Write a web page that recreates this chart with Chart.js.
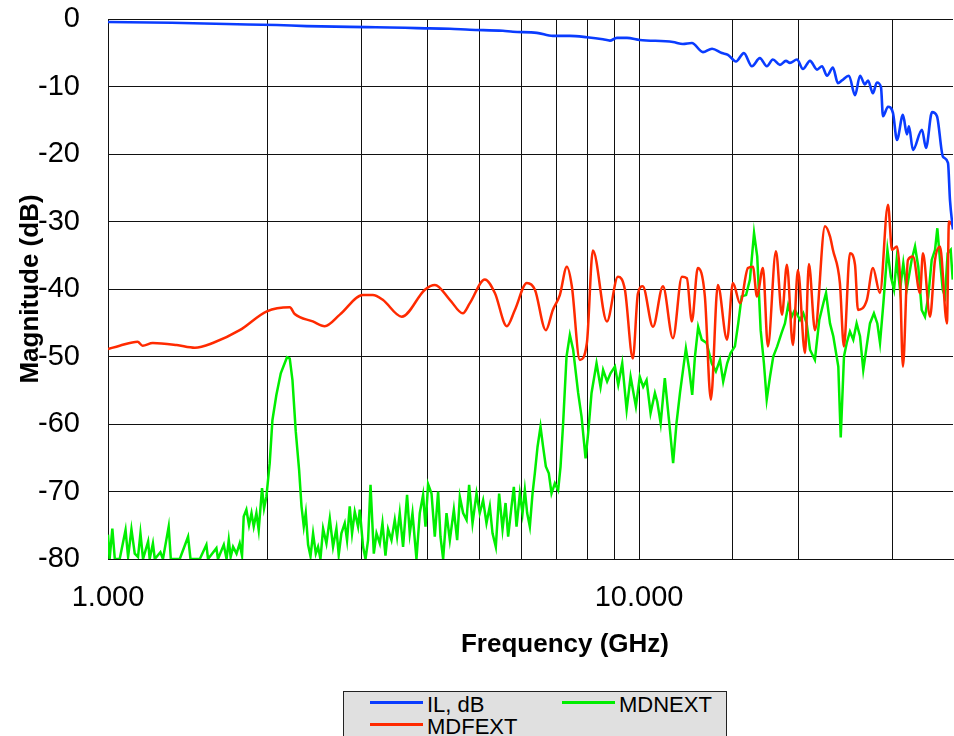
<!DOCTYPE html>
<html>
<head>
<meta charset="utf-8">
<script src="https://cdn.jsdelivr.net/npm/chart.js@4.4.0/dist/chart.umd.min.js"></script>
<style>
  body { margin: 0; background: #fff; font-family: 'Liberation Sans', Arial, sans-serif; }
  #wrap { position: relative; width: 954px; height: 736px; overflow: hidden; }
  #legend { position: absolute; left: 343px; top: 691px; width: 382px; height: 50px;
    background: #e0e0e0; border: 1px solid #222; }
  .sw { position: absolute; height: 3px; width: 53px; }
  .lb { position: absolute; font-size: 22px; line-height: 22px; color: #000; white-space: nowrap; }
</style>
</head>
<body>
<div id="wrap">
  <canvas id="chart" width="954" height="736"></canvas>
  <div id="legend"></div>
</div>
<script>
'use strict';

function $(selector) { return document.querySelector(selector); }
function _(tag) { return document.createElement(tag); }

// IL, dB
const ilFreq = [
  1.0, 1.318, 1.673, 2.078, 2.367, 3.072, 3.393, 3.815, 4.402, 4.801,
  5.541, 5.786, 6.419, 6.88, 7.406, 7.974, 8.546, 8.81, 9.082, 9.485,
  10.03, 11.58, 12.09, 12.57, 13.19, 13.72, 14.32, 14.7, 15.22, 15.75,
  16.31, 16.88, 17.4, 17.86, 18.42, 18.9, 19.23, 19.83, 20.35, 20.98,
  21.63, 22.1, 22.59, 23.17, 23.68, 24.1, 24.84, 25.5, 26.06, 26.62,
  26.98, 27.56, 28.04, 28.54, 28.79, 29.42, 30.06, 30.59, 31.39, 31.94,
  32.22, 32.78, 34.09, 34.69, 35.61, 36.38, 37.34, 38.16, 38.49, 38.99
];
const ilDb = [
  -0.45, -0.55, -0.75, -0.9, -1.05, -1.2, -1.25, -1.35, -1.45, -1.6,
  -1.75, -1.9, -2.05, -2.5, -2.5, -2.7, -3.0, -3.2, -2.8, -2.8,
  -3.1, -3.4, -3.7, -3.55, -4.9, -4.4, -5.05, -5.3, -6.3, -5.05,
  -7.0, -5.8, -7.0, -6.0, -6.8, -6.2, -6.5, -6.0, -7.4, -6.2,
  -7.5, -7.0, -8.4, -7.2, -9.5, -9.1, -8.4, -11.3, -8.4, -9.7,
  -9.1, -11.0, -9.4, -10.1, -14.4, -13.0, -13.9, -17.9, -14.2, -17.1,
  -15.9, -19.4, -16.4, -19.1, -13.8, -14.4, -20.4, -21.3, -26.8, -31.2
];

// MDFEXT
const fextFreq = [
  1.0, 1.052, 1.137, 1.162, 1.214, 1.347, 1.457, 1.575, 1.77, 1.991,
  2.199, 2.247, 2.43, 2.559, 2.732, 3.018, 3.152, 3.291, 3.574, 3.951,
  4.126, 4.402, 4.657, 4.801, 5.124, 5.351, 5.636, 5.836, 6.148, 6.366,
  6.675, 6.88, 7.092, 7.311, 7.471, 7.734, 7.974, 8.185, 8.697, 9.123,
  9.404, 9.734, 9.948, 10.16, 10.62, 11.09, 11.58, 12.04, 12.3, 12.57,
  12.9, 13.3, 13.65, 14.07, 14.64, 15.02, 15.49, 16.03, 16.38, 16.67,
  17.11, 17.48, 18.1, 18.58, 18.98, 19.48, 19.91, 20.53, 20.88, 21.44,
  22.39, 22.88, 23.17, 23.88, 24.3, 24.95, 25.5, 25.83, 26.85, 27.56,
  28.41, 29.42, 29.94, 30.59, 30.99, 31.39, 32.08, 32.79, 33.8, 34.24,
  35.3, 36.07, 36.86, 37.99, 38.32, 38.99
];
const fextDb = [
  -48.9, -48.4, -47.8, -48.4, -48.0, -48.3, -48.7, -48.0, -46.1, -43.3,
  -42.7, -43.7, -44.8, -45.5, -43.8, -40.9, -40.9, -41.6, -44.1, -40.1,
  -39.4, -41.6, -43.6, -42.1, -38.6, -40.6, -45.5, -43.1, -39.1, -40.1,
  -46.1, -43.1, -40.9, -36.7, -39.6, -50.5, -48.0, -34.3, -44.8, -38.2,
  -40.1, -50.3, -40.7, -39.6, -45.6, -39.6, -47.3, -38.2, -38.4, -44.8,
  -36.9, -41.1, -56.4, -39.4, -47.5, -39.1, -42.1, -36.9, -36.7, -41.1,
  -36.9, -48.5, -34.4, -43.8, -36.4, -48.3, -37.2, -49.5, -36.3, -46.1,
  -30.7, -32.2, -34.2, -39.1, -48.5, -34.7, -36.4, -43.1, -41.6, -36.9,
  -40.6, -27.5, -34.2, -33.7, -38.2, -51.5, -35.7, -35.2, -40.6, -34.7,
  -44.1, -35.7, -33.7, -45.1, -30.0, -30.7
];

// MDNEXT
const nextFreq = [
  1.0, 1.007, 1.019, 1.03, 1.052, 1.079, 1.091, 1.107, 1.123, 1.139,
  1.151, 1.164, 1.19, 1.198, 1.215, 1.225, 1.255, 1.269, 1.301, 1.313,
  1.365, 1.415, 1.43, 1.489, 1.532, 1.543, 1.6, 1.611, 1.652, 1.672,
  1.688, 1.702, 1.72, 1.746, 1.77, 1.788, 1.801, 1.822, 1.843, 1.863,
  1.881, 1.903, 1.922, 1.95, 1.967, 1.987, 2.016, 2.04, 2.075, 2.115,
  2.151, 2.173, 2.199, 2.225, 2.257, 2.29, 2.314, 2.337, 2.357, 2.381,
  2.406, 2.433, 2.462, 2.486, 2.512, 2.541, 2.578, 2.616, 2.653, 2.692,
  2.719, 2.751, 2.791, 2.819, 2.852, 2.881, 2.915, 2.957, 2.979, 3.022,
  3.054, 3.088, 3.121, 3.166, 3.203, 3.249, 3.287, 3.33, 3.368, 3.418,
  3.467, 3.502, 3.543, 3.594, 3.657, 3.7, 3.744, 3.809, 3.864, 3.92,
  3.961, 4.006, 4.066, 4.124, 4.184, 4.227, 4.276, 4.339, 4.402, 4.479,
  4.544, 4.597, 4.663, 4.733, 4.786, 4.857, 4.942, 5.012, 5.085, 5.16,
  5.235, 5.297, 5.373, 5.451, 5.532, 5.605, 5.668, 5.752, 5.81, 5.878,
  5.963, 6.033, 6.094, 6.155, 6.227, 6.3, 6.363, 6.438, 6.522, 6.596,
  6.674, 6.761, 6.841, 6.94, 7.04, 7.114, 7.194, 7.301, 7.407, 7.514,
  7.678, 7.792, 7.929, 8.018, 8.137, 8.315, 8.461, 8.556, 8.706, 8.835,
  9.005, 9.135, 9.295, 9.474, 9.638, 9.862, 10.03, 10.18, 10.33, 10.51,
  10.71, 10.82, 10.98, 11.18, 11.4, 11.59, 11.76, 11.94, 12.25, 12.43,
  12.59, 12.74, 12.92, 13.12, 13.4, 13.7, 13.95, 14.2, 14.4, 14.65,
  14.87, 15.15, 15.37, 15.6, 15.9, 16.17, 16.46, 16.69, 16.94, 17.18,
  17.39, 17.64, 17.89, 18.2, 18.55, 18.82, 19.09, 19.38, 19.65, 20.09,
  20.38, 20.68, 20.98, 21.43, 21.84, 22.23, 22.49, 22.88, 23.21, 23.72,
  23.97, 24.31, 24.6, 24.95, 25.31, 25.68, 26.06, 26.43, 26.82, 27.21,
  27.68, 28.09, 28.42, 28.84, 29.35, 29.79, 30.2, 30.55, 31.0, 31.44,
  31.9, 32.6, 33.08, 33.55, 34.05, 34.54, 35.04, 35.56, 36.08, 36.44,
  36.86, 37.3, 37.67, 38.11, 38.61, 38.95
];
const nextDb = [
  -76.4, -80, -75.5, -80, -80, -75.7, -79.7, -75.6, -79.2, -79.7,
  -76.2, -80, -77.4, -80, -77.7, -80, -79, -80, -75.2, -80,
  -80, -76.7, -80, -80, -77.9, -80, -78.4, -80, -77.9, -80,
  -77.2, -79.7, -78.2, -79.2, -77.7, -79.5, -73.7, -72.7, -75.0, -73.2,
  -75.2, -73.2, -75.7, -69.5, -72.5, -70.8, -65.8, -59.4, -55.7, -52.5,
  -51.0, -50.1, -50.3, -53.5, -61.1, -66.8, -72.2, -75.2, -73.2, -77.9,
  -79.6, -76.2, -79.2, -78.2, -80, -75.5, -77.7, -74.0, -78.2, -75.5,
  -79.4, -76.2, -74.7, -77.2, -72.2, -76.2, -73.0, -75.2, -72.7, -78.2,
  -80, -77.2, -69.0, -79.2, -76.2, -77.7, -74.7, -79.5, -75.6, -77.2,
  -74.2, -76.7, -73.2, -78.2, -70.5, -76.2, -73.2, -80, -73.2, -70.5,
  -75.2, -68.9, -70.3, -76.7, -70.0, -76.7, -80, -73.2, -77.2, -72.7,
  -77.2, -70.8, -73.2, -74.2, -69.0, -74.7, -70.3, -73.2, -71.3, -74.7,
  -72.2, -76.2, -78.2, -70.3, -75.6, -71.7, -76.7, -72.2, -69.3, -75.2,
  -70.3, -73.2, -69.8, -73.2, -75.2, -70.3, -67.3, -63.4, -60.4, -63.4,
  -66.3, -67.3, -70.3, -68.8, -69.8, -66.3, -59.9, -50.0, -46.8, -49.0,
  -55.4, -58.9, -65.1, -61.4, -55.4, -51.0, -54.5, -52.0, -53.7, -52.5,
  -51.5, -54.2, -51.0, -57.9, -53.0, -57.4, -53.0, -54.5, -53.5, -58.4,
  -55.4, -56.7, -59.9, -53.2, -59.9, -65.8, -59.9, -55.4, -48.8, -52.0,
  -55.7, -50.0, -45.6, -47.5, -48.0, -51.0, -52.2, -50.5, -53.7, -51.0,
  -49.5, -48.5, -45.1, -41.1, -40.9, -38.6, -31.7, -35.2, -46.1, -51.0,
  -56.4, -53.0, -50.0, -48.5, -46.5, -45.1, -42.4, -44.1, -43.1, -44.6,
  -43.6, -45.1, -49.0, -50.5, -44.6, -42.1, -40.6, -45.1, -47.0, -51.5,
  -62.0, -50.0, -48.0, -46.3, -47.5, -45.1, -47.0, -52.0, -48.5, -45.1,
  -43.6, -45.1, -48.0, -42.1, -34.2, -38.2, -40.1, -35.7, -40.1, -36.2,
  -40.1, -35.7, -33.7, -36.7, -43.1, -44.1, -41.1, -35.7, -34.2, -31.0,
  -35.7, -40.1, -41.1, -34.7, -34.2, -38.6
];

const yTicks = [0, -10, -20, -30, -40, -50, -60, -70, -80];
const xLabels = { 1: '1.000', 10: '10.000' };
const xTitle = 'Frequency (GHz)';

const blue = '#0a3cff';
const red = '#ff2a00';
const green = '#00ee00';

function points(xs, ys) {
  return xs.map((x, i) => ({ x: x, y: ys[i] }));
}

Chart.defaults.font.family = "'Liberation Sans', Arial, sans-serif";
Chart.defaults.color = '#000';

// the x title sits a bit right of the axis centre in the original
const xTitlePlugin = {
  id: 'xTitle',
  afterDraw(chart) {
    const ctx = chart.ctx;
    ctx.save();
    ctx.font = "bold 26px 'Liberation Sans', Arial, sans-serif";
    ctx.fillStyle = '#000';
    ctx.textAlign = 'center';
    ctx.textBaseline = 'middle';
    ctx.fillText(xTitle, 565, 645);
    ctx.restore();
  }
};

const config = {
  type: 'line',
  data: {
    datasets: [
      { label: 'IL, dB', data: points(ilFreq, ilDb), borderColor: blue,
        borderWidth: 2.6, pointRadius: 0, cubicInterpolationMode: 'monotone' },
      { label: 'MDFEXT', data: points(fextFreq, fextDb), borderColor: red,
        borderWidth: 2.5, pointRadius: 0, cubicInterpolationMode: 'monotone' },
      { label: 'MDNEXT', data: points(nextFreq, nextDb), borderColor: green,
        borderWidth: 2.5, pointRadius: 0 }
    ]
  },
  options: {
    responsive: false,
    animation: false,
    devicePixelRatio: 1,
    layout: { padding: { top: 19, right: 1, bottom: 75, left: 0 } },
    plugins: { legend: { display: false }, tooltip: { enabled: false } },
    scales: {
      x: {
        type: 'logarithmic',
        min: 1,
        max: 39,
        grid: {
          drawTicks: false,
          lineWidth: 1,
          color: ctx => (ctx.tick && ctx.tick.value > 35) ? 'rgba(0,0,0,0)' : '#111'
        },
        border: { color: '#111', width: 1 },
        ticks: {
          autoSkip: false,
          maxRotation: 0,
          padding: 22,
          font: { size: 29 },
          callback: v => {
            for (const k in xLabels) {
              if (Math.abs(v - Number(k)) < 1e-6) return xLabels[k];
            }
            return '';
          }
        },
        afterFit: s => {
          s.height = 102;
          s.paddingLeft = 0;
          s.paddingRight = 0;
        }
      },
      y: {
        min: yTicks[yTicks.length - 1],
        max: yTicks[0],
        afterBuildTicks: s => { s.ticks = yTicks.map(v => ({ value: v })); },
        grid: { drawTicks: false, lineWidth: 1, color: '#111' },
        border: { color: '#111', width: 1 },
        ticks: { padding: 28, font: { size: 29 } },
        title: { display: true, text: 'Magnitude (dB)', padding: { top: 15, bottom: 0 },
          font: { size: 26, weight: 'bold' } },
        afterFit: s => {
          s.width = 108;
          s.paddingTop = 0;
          s.paddingBottom = 0;
        }
      }
    }
  },
  plugins: [xTitlePlugin]
};

new Chart($('#chart'), config);

// legend box, two columns like the original
const legendItems = [
  { text: 'IL, dB', color: blue, left: 26, top: 10 },
  { text: 'MDNEXT', color: green, left: 218, top: 10 },
  { text: 'MDFEXT', color: red, left: 26, top: 32 }
];
const legend = $('#legend');
for (let item of legendItems) {
  const sw = _('div');
  sw.className = 'sw';
  sw.style.background = item.color;
  sw.style.left = item.left + 'px';
  sw.style.top = (item.top - 1.5) + 'px';
  const lb = _('div');
  lb.className = 'lb';
  lb.textContent = item.text;
  lb.style.left = (item.left + 57) + 'px';
  lb.style.top = (item.top - 8.5) + 'px';
  legend.appendChild(sw);
  legend.appendChild(lb);
}
</script>
</body>
</html>
